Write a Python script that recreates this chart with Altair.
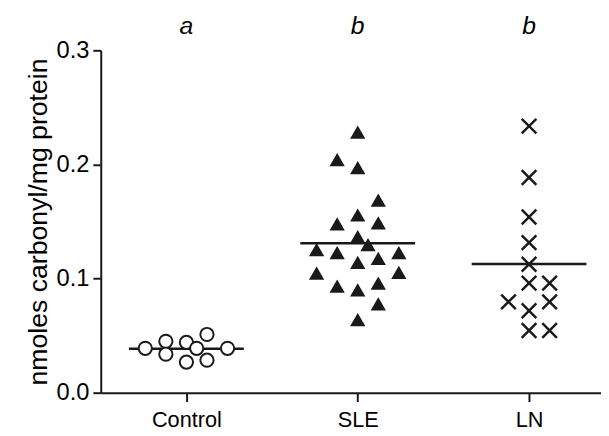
import altair as alt
import pandas as pd

# ---- data ----
groups = ["Control", "SLE", "LN"]
group_pos = [1, 2, 3]
letters = ["a", "b", "b"]

control_values = [0.0389, 0.0450, 0.0337, 0.0441, 0.0268, 0.0389, 0.0510, 0.0285, 0.0389]
control_slots = [-2, -1, -1, 0, 0, 0.5, 1, 1, 2]

sle_values = [0.2284, 0.2042, 0.1972, 0.1687, 0.1557, 0.1479, 0.1488, 0.1367, 0.1298,
              0.1254, 0.1228, 0.1228, 0.1142, 0.1176, 0.1047, 0.1055, 0.0934, 0.0900,
              0.0960, 0.0779, 0.0640]
sle_slots = [0, -1, 0, 1, 0, -1, 1, 0, 0.5, -2, -1, 2, 0, 1, -2, 2, -1, 0, 1, 1, 0]

ln_values = [0.2336, 0.1886, 0.1540, 0.1315, 0.1125, 0.0960, 0.0960, 0.0796, 0.0796,
             0.0718, 0.0545, 0.0545]
ln_slots = [0, 0, 0, 0, 0, 0, 1, -1, 1, 0, 0, 1]

rows = []
for g, p, vals, slots in zip(groups, group_pos,
                             [control_values, sle_values, ln_values],
                             [control_slots, sle_slots, ln_slots]):
    for v, s in zip(vals, slots):
        rows.append({"group": g, "pos": p, "slot": s, "value": v})
df = pd.DataFrame(rows)
letters_df = pd.DataFrame({"group": groups, "pos": group_pos, "letter": letters})

FONT = "Liberation Sans"
SLOT_STEP = 0.12
HALF_LINE = 0.335

label_expr = "[" + ",".join("'%s'" % g for g in groups) + "][datum.value - 1]"

x_scale = alt.Scale(domain=[0.5, 3.42], nice=False, zero=False)
y_scale = alt.Scale(domain=[0, 0.3], nice=False, zero=True)

x_axis = alt.Axis(values=group_pos, labelExpr=label_expr, title=None, grid=False,
                  domainColor="#1a1a1a", domainWidth=2, tickColor="#1a1a1a", tickWidth=2,
                  tickSize=9, labelFont=FONT, labelFontSize=22, labelColor="black",
                  labelPadding=8)
y_axis = alt.Axis(values=[0, 0.1, 0.2, 0.3], format=".1f", title="nmoles carbonyl/mg protein",
                  grid=False, domainColor="#1a1a1a", domainWidth=2, tickColor="#1a1a1a",
                  tickWidth=2, tickSize=8, labelFont=FONT, labelFontSize=24, labelColor="black",
                  labelPadding=4, titleFont=FONT, titleFontSize=27, titleFontWeight="normal",
                  titleColor="black", titlePadding=4)

base = alt.Chart(df).transform_calculate(x="datum.pos + datum.slot * %f" % SLOT_STEP)

mean_rule = alt.Chart(df).transform_aggregate(
    mean_value="mean(value)", groupby=["group", "pos"]
).transform_calculate(
    x1="datum.pos - %f" % HALF_LINE, x2="datum.pos + %f" % HALF_LINE
).mark_rule(color="#1a1a1a", strokeWidth=2.5).encode(
    x=alt.X("x1:Q", scale=x_scale, axis=x_axis),
    x2="x2:Q",
    y=alt.Y("mean_value:Q", scale=y_scale, axis=y_axis),
)

circles = base.transform_filter(alt.datum.group == "Control").mark_point(
    shape="circle", filled=True, fill="white", stroke="#1a1a1a", strokeWidth=2,
    size=180, opacity=1
).encode(x=alt.X("x:Q", scale=x_scale), y=alt.Y("value:Q", scale=y_scale))

triangles = base.transform_filter(alt.datum.group == "SLE").mark_point(
    shape="triangle-up", filled=True, color="#1a1a1a", size=240, opacity=1
).encode(x=alt.X("x:Q", scale=x_scale), y=alt.Y("value:Q", scale=y_scale))

crosses = base.transform_filter(alt.datum.group == "LN").mark_point(
    shape="M-1,-1L1,1M-1,1L1,-1", filled=False, stroke="#1a1a1a", strokeWidth=2.5,
    size=220, opacity=1
).encode(x=alt.X("x:Q", scale=x_scale), y=alt.Y("value:Q", scale=y_scale))

letter_text = alt.Chart(letters_df).mark_text(
    font=FONT, fontSize=25, fontStyle="italic", color="black", baseline="bottom"
).encode(x=alt.X("pos:Q", scale=x_scale), y=alt.value(-12), text="letter:N")

chart = alt.layer(mean_rule, circles, triangles, crosses, letter_text).properties(
    width=507, height=347,
    autosize=alt.AutoSizeParams(type="none"),
    padding={"left": 94, "top": 40, "right": 0, "bottom": 41},
).configure_view(stroke=None)

chart.save("out.html", embed_options={"renderer": "svg", "actions": False})
